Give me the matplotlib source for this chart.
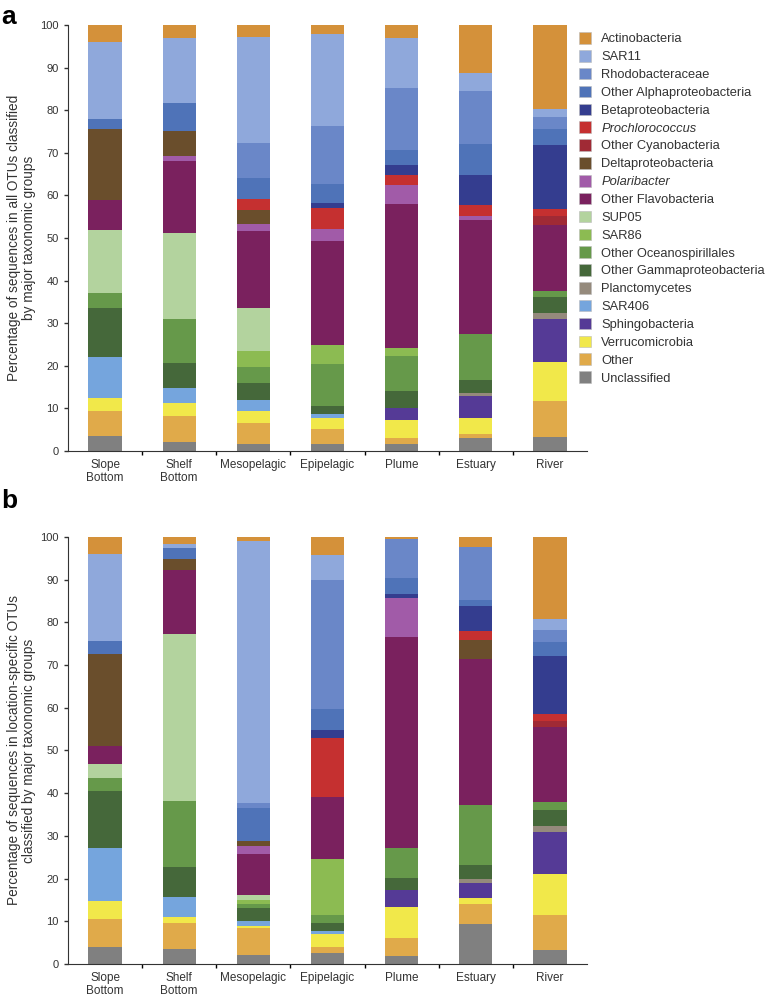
import numpy as np
import matplotlib
matplotlib.use("Agg")
import matplotlib.pyplot as plt
from matplotlib.patches import Patch

plt.rcParams['font.family'] = ['Liberation Sans', 'DejaVu Sans']

# sites along the x axis
sites = ["Slope\nBottom", "Shelf\nBottom", "Mesopelagic", "Epipelagic", "Plume", "Estuary", "River"]

# taxa in stacking order (bottom -> top)
taxa = ["Unclassified", "Other", "Verrucomicrobia", "Sphingobacteria", "SAR406",
        "Planctomycetes", "Other Gammaproteobacteria", "Other Oceanospirillales",
        "SAR86", "SUP05", "Other Flavobacteria", "Polaribacter", "Deltaproteobacteria",
        "Other Cyanobacteria", "Prochlorococcus", "Betaproteobacteria",
        "Other Alphaproteobacteria", "Rhodobacteraceae", "SAR11", "Actinobacteria"]

colors = ["#808080", "#E0AA4A", "#F1E84A", "#553A96", "#75A5DD",
          "#958A7C", "#45683A", "#66994A", "#8CBB52", "#B3D39E",
          "#7A215E", "#A15BA8", "#6A4E2C", "#A02A35", "#C53030",
          "#343D8F", "#4F73B8", "#6A87C8", "#8FA8DB", "#D4913A"]

# panel a: all OTUs (% per taxon, same order as taxa)
a_slope   = [3.5, 6.0, 3.0, 0, 9.5, 0, 11.5, 3.5, 0, 15.0, 7.0, 0, 16.5, 0, 0, 0, 2.5, 0, 18.0, 4.0]
a_shelf   = [2.2, 6.0, 3.1, 0, 3.6, 0, 5.7, 10.3, 0, 20.2, 17.0, 1.1, 5.9, 0, 0, 0, 6.7, 0, 15.1, 3.1]
a_meso    = [1.6, 4.9, 2.9, 0, 2.7, 0, 3.8, 3.8, 3.8, 10.1, 18.0, 1.8, 3.2, 0, 2.6, 0, 4.8, 8.4, 24.8, 2.8]
a_epi     = [1.7, 3.4, 2.7, 0, 0.8, 0, 2.0, 9.9, 4.4, 0, 24.4, 2.9, 0, 0, 4.9, 1.2, 4.3, 13.7, 21.5, 2.2]
a_plume   = [1.6, 1.4, 4.4, 2.8, 0, 0, 4.0, 8.1, 2.0, 0, 33.6, 4.5, 0, 0, 2.4, 2.3, 3.5, 14.5, 11.8, 3.1]
a_estuary = [3.0, 0.9, 3.9, 5.1, 0, 0.8, 3.1, 10.6, 0, 0, 26.8, 1.0, 0, 0, 2.5, 7.1, 7.3, 12.4, 4.3, 11.2]
a_river   = [3.3, 8.4, 9.3, 9.9, 0, 1.6, 3.7, 1.4, 0, 0, 15.5, 0, 0, 2.1, 1.5, 15.1, 3.7, 2.8, 2.0, 19.7]

# panel b: location-specific OTUs
b_slope   = [3.9, 6.7, 4.1, 0, 12.4, 0, 13.5, 2.9, 0, 3.3, 4.3, 0, 21.6, 0, 0, 0, 3.0, 0, 20.2, 4.1]
b_shelf   = [3.6, 6.0, 1.4, 0, 4.6, 0, 7.2, 15.4, 0, 39.0, 15.0, 0, 2.6, 0, 0, 0, 2.5, 0, 1.1, 1.6]
b_meso    = [2.2, 6.2, 0.6, 0, 1.0, 0, 3.1, 0.9, 1.0, 1.2, 9.5, 2.0, 1.1, 0, 0, 0, 7.7, 1.1, 61.4, 1.0]
b_epi     = [2.6, 1.3, 3.1, 0, 0.8, 0, 1.8, 1.9, 13.1, 0, 14.4, 0, 0, 0, 14.0, 1.7, 5.0, 30.2, 5.8, 4.3]
b_plume   = [1.8, 4.4, 7.1, 4.1, 0, 0, 2.7, 7.0, 0, 0, 49.4, 9.1, 0, 0, 0, 1.1, 3.7, 9.2, 0, 0.4]
b_estuary = [9.4, 4.7, 1.3, 3.5, 0, 1.0, 3.3, 14.1, 0, 0, 34.1, 0, 4.4, 0, 2.1, 6.0, 1.3, 12.5, 0, 2.3]
b_river   = [3.3, 8.2, 9.7, 9.8, 0, 1.3, 3.8, 1.9, 0, 0, 17.4, 0, 0, 1.4, 1.7, 13.6, 3.4, 2.7, 2.5, 19.3]

panel_a = np.array([a_slope, a_shelf, a_meso, a_epi, a_plume, a_estuary, a_river])
panel_b = np.array([b_slope, b_shelf, b_meso, b_epi, b_plume, b_estuary, b_river])

ylabel_a = "Percentage of sequences in all OTUs classified\nby major taxonomic groups"
ylabel_b = "Percentage of sequences in location-specific OTUs\nclassified by major taxonomic groups"


def draw_panel(ax, data, ylabel):
    x = np.arange(len(sites))
    bottom = np.zeros(len(sites))
    for j, taxon in enumerate(taxa):
        ax.bar(x, data[:, j], 0.45, bottom=bottom, color=colors[j], linewidth=0)
        bottom += data[:, j]
    ax.set_xlim(-0.5, 6.5)
    ax.set_ylim(0, 100)
    ax.set_yticks(np.arange(0, 101, 10))
    ax.set_xticks(x)
    ax.set_xticklabels(sites, fontsize=8.5, color="#333333", linespacing=1.1)
    ax.set_xticks(np.arange(0.5, 6, 1), minor=True)
    ax.tick_params(axis="x", which="major", length=0, pad=6)
    ax.tick_params(axis="x", which="minor", length=3, direction="out", width=1)
    ax.tick_params(axis="y", length=3, direction="out", labelsize=8, colors="#333333", width=1)
    ax.spines["top"].set_visible(False)
    ax.spines["right"].set_visible(False)
    ax.spines["left"].set_color("#333333")
    ax.spines["bottom"].set_color("#333333")
    ax.set_ylabel(ylabel, fontsize=9.8, color="#333333", labelpad=3, linespacing=1.15)


fig = plt.figure(figsize=(7.7, 9.98), dpi=100)
ax_a = fig.add_axes([0.0883, 0.548, 0.674, 0.427])
ax_b = fig.add_axes([0.0883, 0.034, 0.674, 0.428])
draw_panel(ax_a, panel_a, ylabel_a)
draw_panel(ax_b, panel_b, ylabel_b)

fig.text(0.002, 0.995, "a", fontsize=19, fontweight="bold", va="top")
fig.text(0.002, 0.51, "b", fontsize=19, fontweight="bold", va="top")

# legend, top to bottom as in the figure
handles = [Patch(facecolor=colors[j], edgecolor="#bbbbbb", linewidth=0.4) for j in range(len(taxa))][::-1]
leg = fig.legend(handles, taxa[::-1], loc="upper left", bbox_to_anchor=(0.745, 0.973),
                 frameon=False, fontsize=9.3, handlelength=0.95, handleheight=1.0,
                 handletextpad=0.8, labelspacing=0.36, borderaxespad=0)
for t in leg.get_texts():
    t.set_color("#333333")
    if t.get_text() in ("Prochlorococcus", "Polaribacter"):
        t.set_style("italic")

fig.savefig("out.png", dpi=100)
